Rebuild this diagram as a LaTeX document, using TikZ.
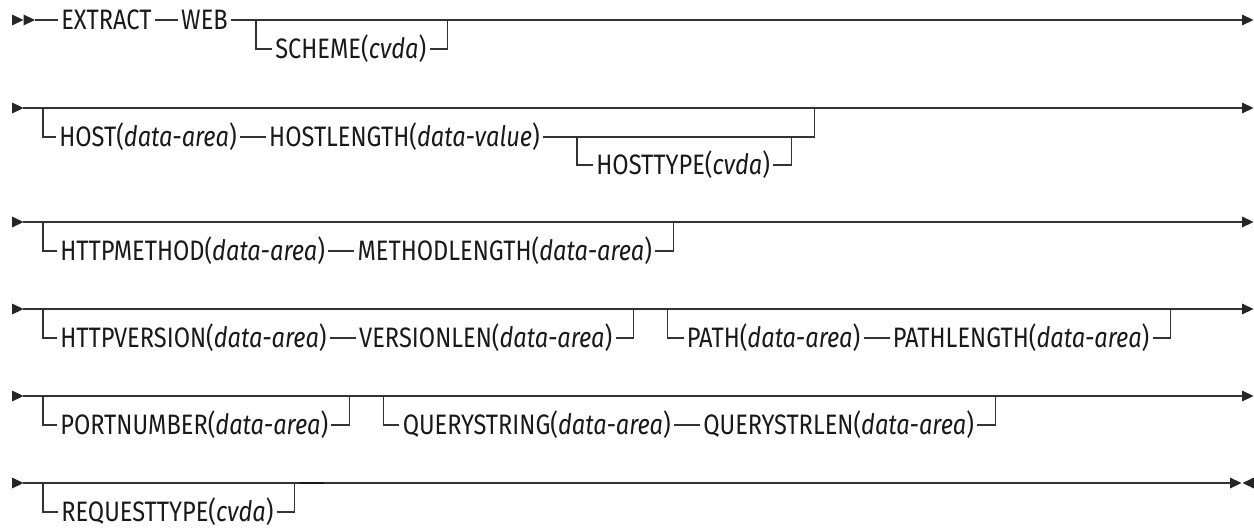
\documentclass[tikz,border=0pt]{standalone}
\usepackage{fontspec}
\setmainfont{Fira Sans}[FakeStretch=0.84]
\usetikzlibrary{positioning}

% filled arrow heads of the syntax line
\newcommand{\rtri}[2]{\fill[black!85] (#1,#2-5.5) -- (#1+11.5,#2) -- (#1,#2+5.5) -- cycle;}
\newcommand{\ltri}[2]{\fill[black!85] (#1,#2-5.5) -- (#1-11.5,#2) -- (#1,#2+5.5) -- cycle;}

\begin{document}
\begin{tikzpicture}[x=0.02cm, y=-0.02cm, line width=0.75pt,
    kw/.style={font=\fontsize{16}{18}\selectfont, inner xsep=1.5pt, inner ysep=0pt, anchor=west, text=black!90},
    rr/.style={draw=black!80}]
    \useasboundingbox (0,0) rectangle (1254,529);

    % Row 1: EXTRACT WEB [SCHEME]
    \rtri{12}{20} \rtri{23.5}{20}
    \coordinate (r1s) at (35,20);
    \coordinate (r1e) at (1242,20);
    \node[kw] (extract) at (58,20) {EXTRACT};
    \node[kw, right=0.46cm of extract] (web) {WEB};
    \draw[rr] (r1s) -- (extract.west) (extract.east) -- (web.west) (web.east) -- (r1e);
    \rtri{1242}{20}
    \coordinate (b1a) at ([xshift=0.5cm]web.east);
    \path (b1a) ++(16,29) node[kw] (scheme) {SCHEME(\textit{cvda})};
    \draw[rr] (b1a) |- (scheme.west) (scheme.east) -- ++(18,0) coordinate (b1b) -- (b1b |- b1a);

    % Row 2: [HOST HOSTLENGTH [HOSTTYPE]]
    \rtri{12}{108}
    \coordinate (r2s) at (23,108);
    \coordinate (r2e) at (1242,108);
    \draw[rr] (r2s) -- (r2e);
    \rtri{1242}{108}
    \coordinate (b2a) at (43,108);
    \node[kw] (host) at (56,137) {HOST(\textit{data-area})};
    \node[kw, right=0.52cm of host] (hostlen) {HOSTLENGTH(\textit{data-value})};
    \draw[rr] (b2a) |- (host.west) (host.east) -- (hostlen.west);
    \coordinate (b2c) at ([xshift=0.68cm]hostlen.east);
    \path (b2c) ++(16,28) node[kw] (hosttype) {HOSTTYPE(\textit{cvda})};
    \draw[rr] (b2c) |- (hosttype.west) (hosttype.east) -- ++(18,0) coordinate (b2d) -- (b2d |- b2c);
    \draw[rr] (hostlen.east) -- (b2d |- b2c) -- ++(23,0) coordinate (b2b) -- (b2b |- r2s);

    % Row 3: [HTTPMETHOD METHODLENGTH]
    \rtri{12}{222}
    \coordinate (r3s) at (23,222);
    \coordinate (r3e) at (1242,222);
    \draw[rr] (r3s) -- (r3e);
    \rtri{1242}{222}
    \coordinate (b3a) at (43,222);
    \node[kw] (method) at (57,251) {HTTPMETHOD(\textit{data-area})};
    \node[kw, right=0.52cm of method] (methodlen) {METHODLENGTH(\textit{data-area})};
    \draw[rr] (b3a) |- (method.west) (method.east) -- (methodlen.west);
    \draw[rr] (methodlen.east) -- ++(18,0) coordinate (b3b) -- (b3b |- r3s);

    % Row 4: [HTTPVERSION VERSIONLEN] [PATH PATHLENGTH]
    \rtri{12}{309}
    \coordinate (r4s) at (23,309);
    \coordinate (r4e) at (1242,309);
    \draw[rr] (r4s) -- (r4e);
    \rtri{1242}{309}
    \coordinate (b4a) at (43,309);
    \node[kw] (version) at (57,338) {HTTPVERSION(\textit{data-area})};
    \node[kw, right=0.52cm of version] (versionlen) {VERSIONLEN(\textit{data-area})};
    \draw[rr] (b4a) |- (version.west) (version.east) -- (versionlen.west);
    \draw[rr] (versionlen.east) -- ++(18,0) coordinate (b4b) -- (b4b |- r4s);
    \path (b4b |- r4s) ++(34,0) coordinate (b4c);
    \path (b4c) ++(16,29) node[kw] (path) {PATH(\textit{data-area})};
    \node[kw, right=0.52cm of path] (pathlen) {PATHLENGTH(\textit{data-area})};
    \draw[rr] (b4c) |- (path.west) (path.east) -- (pathlen.west);
    \draw[rr] (pathlen.east) -- ++(18,0) coordinate (b4d) -- (b4d |- r4s);

    % Row 5: [PORTNUMBER] [QUERYSTRING QUERYSTRLEN]
    \rtri{12}{396}
    \coordinate (r5s) at (23,396);
    \coordinate (r5e) at (1242,396);
    \draw[rr] (r5s) -- (r5e);
    \rtri{1242}{396}
    \coordinate (b5a) at (43,396);
    \node[kw] (port) at (57,425) {PORTNUMBER(\textit{data-area})};
    \draw[rr] (b5a) |- (port.west) (port.east) -- ++(18,0) coordinate (b5b) -- (b5b |- r5s);
    \path (b5b |- r5s) ++(34,0) coordinate (b5c);
    \path (b5c) ++(16,29) node[kw] (query) {QUERYSTRING(\textit{data-area})};
    \node[kw, right=0.52cm of query] (querylen) {QUERYSTRLEN(\textit{data-area})};
    \draw[rr] (b5c) |- (query.west) (query.east) -- (querylen.west);
    \draw[rr] (querylen.east) -- ++(18,0) coordinate (b5d) -- (b5d |- r5s);

    % Row 6: [REQUESTTYPE] and the end of the statement
    \rtri{12}{483}
    \coordinate (r6s) at (23,483);
    \coordinate (r6e) at (1231,483);
    \draw[rr] (r6s) -- (r6e);
    \rtri{1230}{483} \ltri{1254}{483}
    \coordinate (b6a) at (43,483);
    \node[kw] (reqtype) at (58,512) {REQUESTTYPE(\textit{cvda})};
    \draw[rr] (b6a) |- (reqtype.west) (reqtype.east) -- ++(18,0) coordinate (b6b) -- (b6b |- r6s);
    \draw[black!90, line width=1.4pt] ([xshift=0.08cm]b6b |- r6s) -- ++(25,0);
\end{tikzpicture}
\end{document}
